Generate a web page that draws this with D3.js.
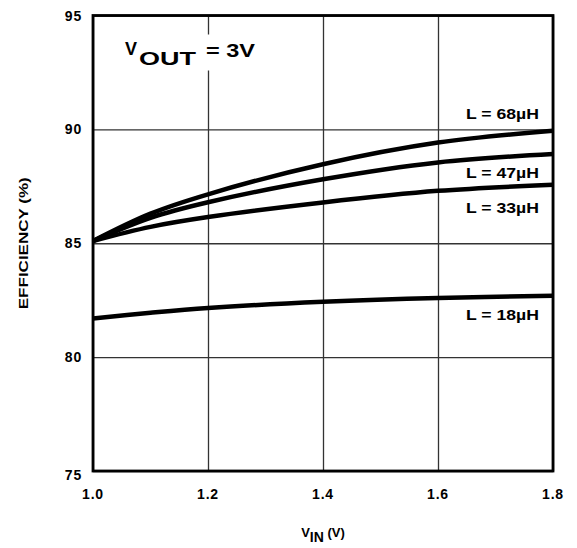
<!DOCTYPE html>
<html>
<head>
<meta charset="utf-8">
<script src="https://cdn.jsdelivr.net/npm/d3@7"></script>
<style>
  body { margin: 0; background: #fff; }
  text { font-family: "Liberation Sans", Arial, sans-serif; font-weight: bold; fill: #000; }
</style>
</head>
<body>
<div id="chart"></div>
<script>
// data
var vin = [1.0, 1.1, 1.2, 1.4, 1.6, 1.8];
var eff68 = [85.1, 86.3, 87.15, 88.47, 89.42, 89.94];
var eff47 = [85.1, 86.12, 86.8, 87.81, 88.55, 88.92];
var eff33 = [85.1, 85.72, 86.15, 86.79, 87.3, 87.57];
var eff18 = [81.7, 81.95, 82.16, 82.43, 82.6, 82.69];
var seriesNames = ["L = 68µH", "L = 47µH", "L = 33µH", "L = 18µH"];
var xTicks = [1.0, 1.2, 1.4, 1.6, 1.8];
var yTicks = [75, 80, 85, 90, 95];

// set the dimensions and margins of the graph
var margin = {top: 15.5, right: 24, bottom: 77, left: 93},
    width = 577 - margin.left - margin.right,
    height = 548 - margin.top - margin.bottom;

var svg = d3.select("#chart")
  .append("svg")
    .attr("width", 577)
    .attr("height", 548)
  .append("g")
    .attr("transform", "translate(" + margin.left + "," + margin.top + ")");

var x = d3.scaleLinear().domain([1.0, 1.8]).range([0, width]);
var y = d3.scaleLinear().domain([75, 95]).range([height, 0]);

// grid lines
svg.append("g")
  .attr("transform", "translate(0," + height + ")")
  .call(d3.axisBottom(x).tickValues(xTicks).tickSize(-height).tickFormat(""))
  .call(function(g) { g.select(".domain").remove(); })
  .selectAll("line").attr("stroke", "#333").attr("stroke-width", 1.3);
svg.append("g")
  .call(d3.axisLeft(y).tickValues(yTicks).tickSize(-width).tickFormat(""))
  .call(function(g) { g.select(".domain").remove(); })
  .selectAll("line").attr("stroke", "#333").attr("stroke-width", 1.3);

// tick labels
svg.append("g").selectAll("text")
  .data(xTicks)
  .enter().append("text")
    .attr("x", function(d) { return x(d); })
    .attr("y", height + 28)
    .attr("text-anchor", "middle")
    .style("font-size", "14px")
    .style("letter-spacing", "0.8px")
    .text(function(d) { return d.toFixed(1); });

svg.append("g").selectAll("text")
  .data(yTicks)
  .enter().append("text")
    .attr("x", -11)
    .attr("y", function(d) { return y(d) + (d === 75 ? 9 : 5); })
    .attr("text-anchor", "end")
    .style("font-size", "14px")
    .style("letter-spacing", "0.8px")
    .text(function(d) { return d; });

// VOUT box
var vout = svg.append("g");
vout.append("rect")
  .attr("x", 27).attr("y", 19).attr("width", 140).attr("height", 36)
  .attr("fill", "#fff");
vout.append("text").attr("x", 32).attr("y", 39.5)
  .style("font-size", "18px").text("V");
vout.append("text").attr("x", 46).attr("y", 49.5)
  .style("font-size", "19px")
  .attr("textLength", 57).attr("lengthAdjust", "spacingAndGlyphs").text("OUT");
vout.append("text").attr("x", 113).attr("y", 41.5)
  .style("font-size", "19px")
  .attr("textLength", 49).attr("lengthAdjust", "spacingAndGlyphs").text("= 3V");

// curves
var allSeries = [eff68, eff47, eff33, eff18];
var line = d3.line()
  .x(function(d, i) { return x(vin[i]); })
  .y(function(d) { return y(d); })
  .curve(d3.curveCatmullRom.alpha(0.5));

svg.append("g").selectAll("path")
  .data(allSeries)
  .enter().append("path")
    .attr("d", line)
    .attr("fill", "none")
    .attr("stroke", "#000")
    .attr("stroke-width", 4.5);

// series labels (offset from line end)
var labelDy = [-12, 24, 28, 24];
svg.append("g").selectAll("text")
  .data(allSeries)
  .enter().append("text")
    .attr("x", x(1.8) - 14)
    .attr("y", function(d, i) { return y(d[d.length - 1]) + labelDy[i]; })
    .attr("text-anchor", "end")
    .style("font-size", "15px")
    .attr("textLength", 73)
    .attr("lengthAdjust", "spacingAndGlyphs")
    .text(function(d, i) { return seriesNames[i]; });

// frame
svg.append("rect")
  .attr("width", width).attr("height", height)
  .attr("fill", "none").attr("stroke", "#000").attr("stroke-width", 2.8);

// axis titles
var xt = svg.append("text")
  .attr("x", x(1.4))
  .attr("y", height + 66)
  .attr("text-anchor", "middle")
  .style("font-size", "13px");
xt.append("tspan").text("V");
xt.append("tspan").attr("dy", 5).style("font-size", "14px").text("IN");
xt.append("tspan").attr("dy", -5).style("font-size", "13px").text(" (V)");

svg.append("text")
  .attr("transform", "translate(-65," + y(85) + ") rotate(-90)")
  .attr("text-anchor", "middle")
  .style("font-size", "12px")
  .attr("textLength", 132)
  .attr("lengthAdjust", "spacingAndGlyphs")
  .text("EFFICIENCY (%)");
</script>
</body>
</html>
